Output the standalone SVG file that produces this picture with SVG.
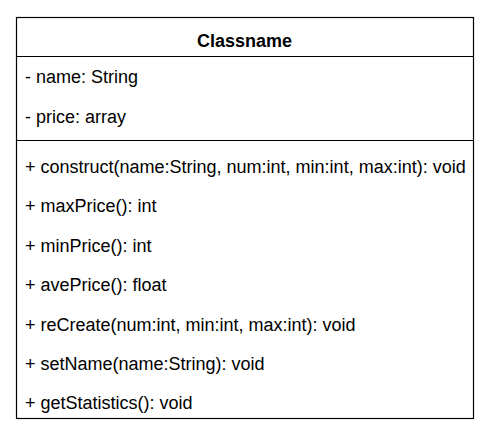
<svg xmlns="http://www.w3.org/2000/svg" width="497" height="437" viewBox="0 0 497 437">
<style>
.box{fill:#fff;stroke:#000;stroke-width:1.2}
.div{stroke:#000;stroke-width:1.2}
text{font-family:"Liberation Sans",Arial,Helvetica,sans-serif;font-size:18px;fill:#000}
.title{font-weight:bold;text-anchor:middle}
</style>
<rect width="497" height="437" fill="#fff"/>
<g id="classname">
<rect class="box" x="16.5" y="17.5" width="457" height="401"/>
<line class="div" x1="16.5" y1="56.5" x2="473.5" y2="56.5"/>
<line class="div" x1="16.5" y1="140.5" x2="473.5" y2="140.5"/>
<text class="title" x="244.5" y="46.5">Classname</text>
<text x="25" y="82.5">- name: String</text>
<text x="25" y="122.5">- price: array</text>
<text x="25" y="172.5">+ construct(name:String, num:int, min:int, max:int): void</text>
<text x="25" y="212">+ maxPrice(): int</text>
<text x="25" y="251.5">+ minPrice(): int</text>
<text x="25" y="291">+ avePrice(): float</text>
<text x="25" y="330.5">+ reCreate(num:int, min:int, max:int): void</text>
<text x="25" y="369.5">+ setName(name:String): void</text>
<text x="25" y="408.5">+ getStatistics(): void</text>
</g>
<g id="connectors"></g>
</svg>
